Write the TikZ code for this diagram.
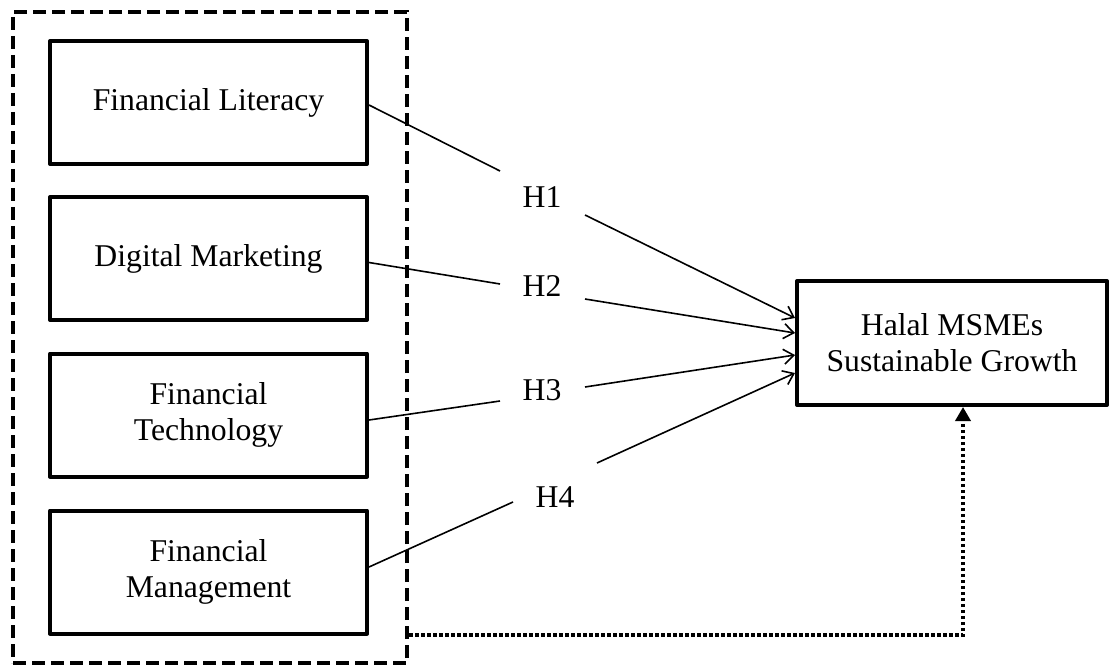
\documentclass[tikz,border=0pt]{standalone}
\usepackage{fontspec}
\setmainfont{Liberation Serif}
\usetikzlibrary{arrows.meta,calc}
\begin{document}
\begin{tikzpicture}[x=1pt,y=-1pt,
  txt/.style={font=\fontsize{31.7}{36}\selectfont},
  box/.style={txt,draw,line width=4pt,line join=round,inner sep=0pt,align=center,
    minimum width=317pt,minimum height=123pt},
  outbox/.style={txt,draw,line width=4pt,line join=round,inner sep=0pt,align=center,
    minimum width=310pt,minimum height=124pt},
  grpbox/.style={draw,line width=4pt,dash pattern=on 13pt off 6pt,
    minimum width=394pt,minimum height=651pt,inner sep=0pt},
  hlabel/.style={txt,inner sep=0pt},
  link/.style={line width=1.6pt,-{Straight Barb[length=10pt,width=15pt,line width=1.6pt]}},
  ctrl/.style={line width=3.5pt,dash pattern=on 3.5pt off 2.5pt,
    -{Triangle[length=14pt,width=15pt]}}
]
\useasboundingbox (0,0) rectangle (1110,668);

\node[grpbox] (grp) at (210,337.5) {};

\node[box] (b1) at (208.5,102.5) {Financial Literacy};
\node[box] (b2) at (208.5,258.5) {Digital Marketing};
\node[box] (b3) at (208.5,415) {Financial\\Technology};
\node[box] (b4) at (208.5,572) {Financial\\Management};

\node[outbox] (hm) at (952,343) {Halal MSMEs\\Sustainable Growth};

\node[hlabel] (h1) at (542,197) {H1};
\node[hlabel] (h2) at (542,286) {H2};
\node[hlabel] (h3) at (542,390) {H3};
\node[hlabel] (h4) at (555,497) {H4};

\coordinate (g1a) at (500,171); \coordinate (g1b) at (585,215); \coordinate (t1) at (795,318);
\coordinate (g2a) at (500,284); \coordinate (g2b) at (585,299); \coordinate (t2) at (795,333);
\coordinate (g3a) at (500,401); \coordinate (g3b) at (585,387); \coordinate (t3) at (795,355);
\coordinate (g4a) at (513,502); \coordinate (g4b) at (597,463); \coordinate (t4) at (795,373);

\draw[line width=1.6pt] ($(b1.east)+(0,2.5)$) -- (g1a);
\draw[link] (g1b) -- (t1);
\draw[line width=1.6pt] ($(b2.east)+(0,4)$) -- (g2a);
\draw[link] (g2b) -- (t2);
\draw[line width=1.6pt] ($(b3.east)+(0,5)$) -- (g3a);
\draw[link] (g3b) -- (t3);
\draw[line width=1.6pt] ($(b4.east)+(0,-5)$) -- (g4a);
\draw[link] (g4b) -- (t4);

\coordinate (d1) at (963,635);
\draw[ctrl] (grp.east |- d1) -- (d1) -- (d1 |- hm.south);
\end{tikzpicture}
\end{document}
